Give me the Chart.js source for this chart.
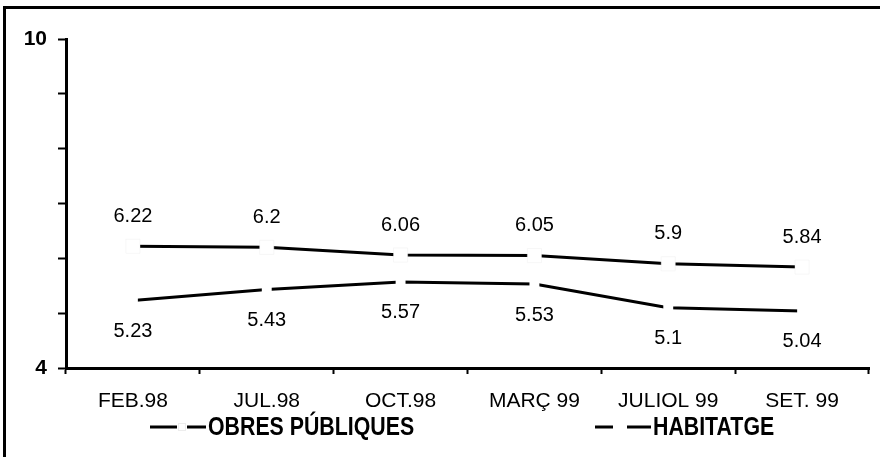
<!DOCTYPE html>
<html lang="ca">
<head>
    <meta charset="UTF-8">
    <script src="https://cdn.jsdelivr.net/npm/chart.js"></script>
    <style>
        body { margin: 0; width: 880px; height: 457px; overflow: hidden; background: #fff; position: relative; }
        #frame { position: absolute; left: 3px; top: 6px; width: 900px; height: 500px; border: 3px solid #000; }
        #chart-box { position: absolute; left: 0; top: 0; width: 880px; height: 457px; }
    </style>
</head>
<body>
    <div id="frame"></div>
    <div id="chart-box"><canvas id="line-chart"></canvas></div>

    <script>
        // data
        var months = ['FEB.98', 'JUL.98', 'OCT.98', 'MARÇ 99', 'JULIOL 99', 'SET. 99'];
        var obresPubliques = [6.22, 6.2, 6.06, 6.05, 5.9, 5.84];
        var habitatge = [5.23, 5.43, 5.57, 5.53, 5.1, 5.04];
        var seriesNames = ['OBRES PÚBLIQUES', 'HABITATGE'];
        var yTickLabels = [4, 10];

        var baseFont = '"Liberation Sans", Arial, sans-serif';

        // value labels: first series above the points, second below
        var valueLabels = {
            id: 'valueLabels',
            afterDatasetsDraw: function (chart) {
                var ctx = chart.ctx;
                ctx.save();
                ctx.font = '20px ' + baseFont;
                ctx.fillStyle = '#000';
                ctx.textAlign = 'center';
                ctx.textBaseline = 'middle';
                chart.data.datasets.forEach(function (ds, i) {
                    var meta = chart.getDatasetMeta(i);
                    var shift = i === 0 ? -30 : 31;
                    meta.data.forEach(function (pt, j) {
                        ctx.fillText(String(ds.data[j]), pt.x, pt.y + shift);
                    });
                });
                ctx.restore();
            }
        };

        // legend drawn by hand: dash - marker - dash, then the name (narrowed)
        var handLegend = {
            id: 'handLegend',
            afterDraw: function (chart) {
                var ctx = chart.ctx;
                var spots = [150, 595];
                var y = 427;
                ctx.save();
                chart.data.datasets.forEach(function (ds, i) {
                    var x0 = spots[i];
                    ctx.strokeStyle = '#000';
                    ctx.lineWidth = 3;
                    ctx.beginPath();
                    ctx.moveTo(x0, y);
                    ctx.lineTo(x0 + 56, y);
                    ctx.stroke();
                    var mx = x0 + (i === 0 ? 32 : 25);
                    var half = i === 0 ? 5 : 7;
                    ctx.fillStyle = '#fff';
                    ctx.fillRect(mx - half, y - 4, half * 2, 8);
                    if (i === 0) {
                        ctx.strokeStyle = 'rgba(220,220,220,0.5)';
                        ctx.lineWidth = 1;
                        ctx.strokeRect(mx - 3.5, y - 3.5, 7, 7);
                    }
                    ctx.save();
                    ctx.translate(x0 + 58, y + 1);
                    ctx.scale(0.82, 1);
                    ctx.fillStyle = '#000';
                    ctx.font = 'bold 26px ' + baseFont;
                    ctx.textAlign = 'left';
                    ctx.textBaseline = 'middle';
                    ctx.fillText(ds.label, 0, 0);
                    ctx.restore();
                });
                ctx.restore();
            }
        };

        var ctx = document.getElementById('line-chart');
        var lineChart = new Chart(ctx, {
            type: 'line',
            data: {
                labels: months,
                datasets: [
                    {
                        label: seriesNames[0],
                        data: obresPubliques,
                        borderColor: '#000',
                        borderWidth: 3,
                        tension: 0,
                        pointStyle: 'rect',
                        radius: 10,
                        pointBackgroundColor: '#fff',
                        pointBorderColor: 'rgba(235,235,235,0.4)',
                        pointBorderWidth: 1,
                    },
                    {
                        label: seriesNames[1],
                        data: habitatge,
                        borderColor: '#000',
                        borderWidth: 3,
                        tension: 0,
                        pointStyle: 'rect',
                        radius: 7,
                        pointBackgroundColor: '#fff',
                        pointBorderColor: '#fff',
                        pointBorderWidth: 0,
                    },
                ]
            },
            options: {
                responsive: false,
                animation: false,
                devicePixelRatio: 1,
                layout: { padding: { top: 39, right: 2, bottom: 0, left: 0 } },
                plugins: {
                    legend: { display: false },
                    tooltip: { enabled: false },
                },
                scales: {
                    x: {
                        offset: true,
                        grid: {
                            offset: true,
                            drawOnChartArea: false,
                            tickLength: 6,
                            tickColor: '#000',
                            tickWidth: 2,
                        },
                        border: { color: '#000', width: 3 },
                        ticks: {
                            color: '#000',
                            font: { family: baseFont, size: 21 },
                            padding: 15,
                            maxRotation: 0,
                            autoSkip: false,
                        },
                        afterFit: function (scale) { scale.height = 72; },
                    },
                    y: {
                        min: 4,
                        max: 10,
                        grid: {
                            drawOnChartArea: false,
                            tickLength: 8,
                            tickColor: '#000',
                            tickWidth: 2,
                        },
                        border: { color: '#000', width: 3 },
                        ticks: {
                            stepSize: 1,
                            color: '#000',
                            font: { family: baseFont, size: 21, weight: 'bold' },
                            padding: 11,
                            callback: function (v) {
                                return yTickLabels.indexOf(v) >= 0 ? String(v) : '';
                            }
                        },
                        afterFit: function (scale) { scale.width = 66; },
                    }
                }
            },
            plugins: [valueLabels, handLegend]
        });
        lineChart.resize(880, 457);
    </script>
</body>
</html>
